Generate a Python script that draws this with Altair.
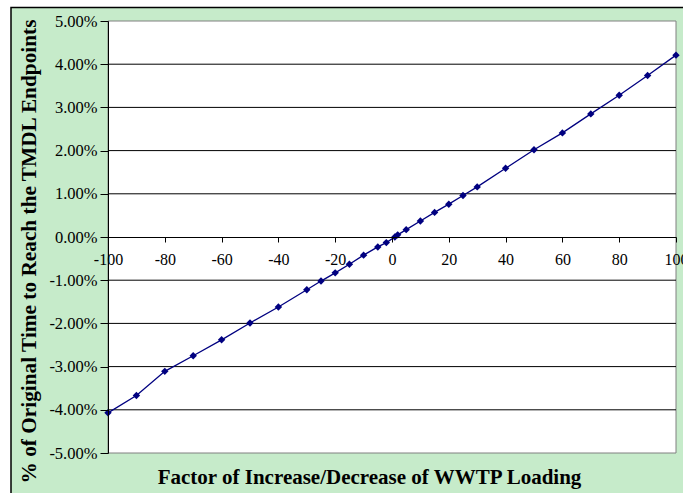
import altair as alt
import pandas as pd

# Change in WWTP loading (%) and resulting change in time to reach TMDL endpoints (%)
loading_factor = [-100, -90, -80, -70, -60, -50, -40, -30, -25, -20, -15, -10, -5, -2,
                  1, 2, 5, 10, 15, 20, 25, 30, 40, 50, 60, 70, 80, 90, 100]
time_change_pct = [-4.07, -3.67, -3.11, -2.75, -2.38, -1.99, -1.62, -1.22, -1.02, -0.83,
                   -0.63, -0.42, -0.23, -0.13, 0.00, 0.05, 0.17, 0.37, 0.57, 0.76,
                   0.96, 1.16, 1.59, 2.02, 2.41, 2.85, 3.28, 3.74, 4.21]

y_ticks = [-5, -4, -3, -2, -1, 0, 1, 2, 3, 4, 5]
grid_levels = [-4, -3, -2, -1, 1, 2, 3, 4]
x_ticks = [-100, -80, -60, -40, -20, 0, 20, 40, 60, 80, 100]

W, H = 568, 432
FONT = "Liberation Serif"
GREEN = "#C6EBCA"
NAVY = "#000080"

df = pd.DataFrame({"factor": loading_factor, "pct": time_change_pct})
grid_df = pd.DataFrame({"level": grid_levels})
one = pd.DataFrame({"k": [0]})

x_scale = alt.Scale(domain=[-100, 100], nice=False, zero=False)
y_scale = alt.Scale(domain=[-5, 5], nice=False, zero=False)

x_axis = alt.Axis(
    values=x_ticks, grid=False, offset=-H / 2, zindex=1,
    domainColor="black", domainWidth=1, tickColor="black", tickSize=5,
    labelFont=FONT, labelFontSize=16, labelColor="black",
    labelBaseline="alphabetic", labelPadding=22, labelFlush=False,
    labelOverlap=False, labelBound=False,
    labelExpr="(datum.value < 0 ? '-' : '') + format(abs(datum.value), 'd')",
    title="Factor of Increase/Decrease of WWTP Loading",
    titleFont=FONT, titleFontSize=21, titleFontWeight="bold", titleColor="black",
    titleX=261, titleY=246, titleAlign="center", titleBaseline="alphabetic",
)

y_axis = alt.Axis(
    values=y_ticks, grid=False, zindex=1,
    domainColor="black", domainWidth=1, tickColor="black", tickSize=8,
    labelFont=FONT, labelFontSize=16.5, labelColor="black",
    labelPadding=3, labelFlush=False, labelOverlap=False, labelBound=False,
    labelExpr="(datum.value < 0 ? '-' : '') + format(abs(datum.value), '.2f') + '%'",
    title="% of Original Time to Reach the TMDL Endpoints",
    titleFont=FONT, titleFontSize=21.3, titleFontWeight="bold", titleColor="black",
    titleAngle=-90, titleX=-73, titleY=230, titleAlign="center",
    titleBaseline="alphabetic",
)

# Outer chart frame and white plot background
frame = alt.Chart(one).mark_rect(fill=GREEN, stroke="black", strokeWidth=1.5).encode(
    x=alt.value(-97), x2=alt.value(620), y=alt.value(-13.5), y2=alt.value(500)
)
plot_bg = alt.Chart(one).mark_rect(fill="white", stroke="#808080", strokeWidth=1).encode(
    x=alt.value(0), x2=alt.value(W), y=alt.value(0), y2=alt.value(H)
)

# Horizontal gridlines at each whole percent
grid = alt.Chart(grid_df).mark_rule(color="black", strokeWidth=1).encode(
    y=alt.Y("level:Q", scale=y_scale, axis=y_axis, title=y_axis.title)
)

line = alt.Chart(df).mark_line(color=NAVY, strokeWidth=1.3).encode(
    x=alt.X("factor:Q", scale=x_scale, axis=x_axis),
    y=alt.Y("pct:Q", scale=y_scale, axis=y_axis),
)

points = alt.Chart(df).mark_point(
    shape="diamond", filled=True, color=NAVY, size=55, opacity=1
).encode(
    x=alt.X("factor:Q", scale=x_scale, axis=x_axis),
    y=alt.Y("pct:Q", scale=y_scale, axis=y_axis),
)

chart = (
    alt.layer(frame, plot_bg, grid, line, points)
    .properties(
        width=W, height=H,
        autosize=alt.AutoSizeParams(type="none"),
        padding={"left": 108, "top": 21, "right": 7, "bottom": 40},
        background="white",
    )
    .configure_view(stroke=None)
)

chart.save("out.html", embed_options={"renderer": "svg", "actions": False})
